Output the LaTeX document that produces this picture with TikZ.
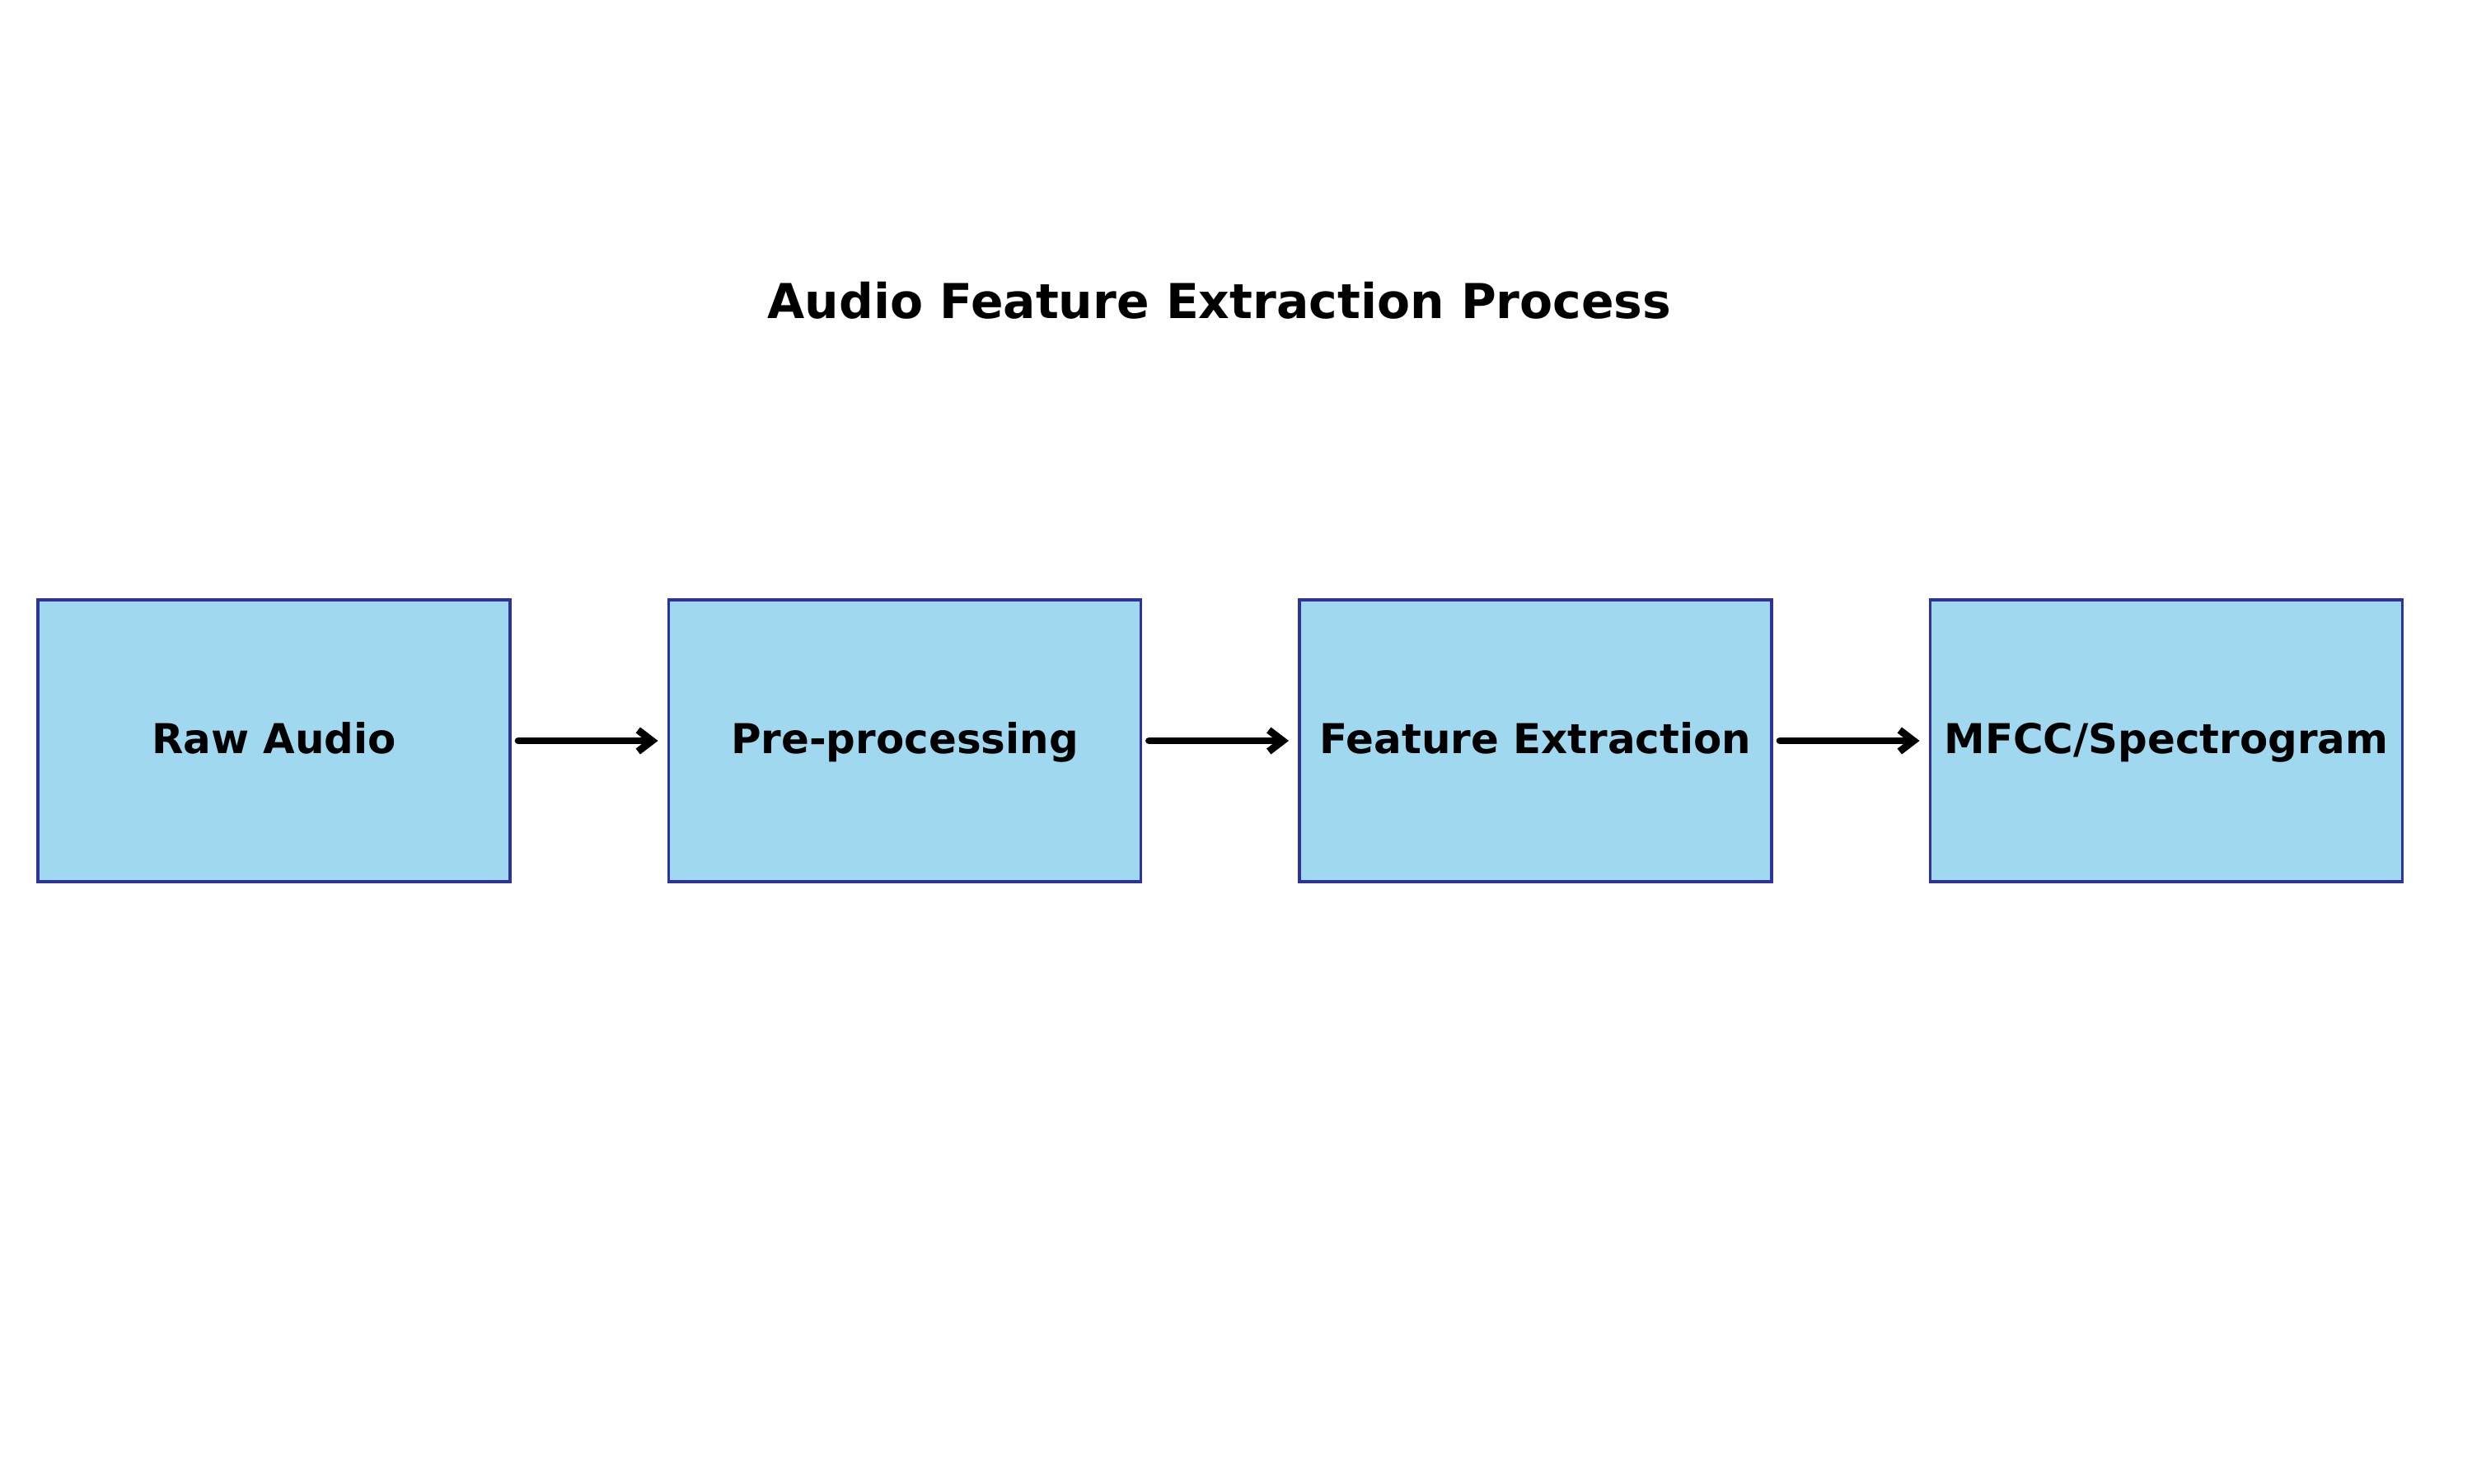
\documentclass[tikz,border=0pt]{standalone}
\usepackage{fontspec}
\setmainfont{DejaVu Sans}
\usetikzlibrary{positioning,arrows.meta}
\definecolor{boxfill}{HTML}{9FD8EF}
\definecolor{boxedge}{HTML}{2E3399}
\tikzset{block/.style = {draw=boxedge, fill=boxfill, line width=0.95pt, rectangle, inner sep=0pt, outer sep=0pt,
                         minimum height=3.42cm, minimum width=5.73cm, text height=10.8pt, text depth=1.8pt,
                         font=\fontsize{14.2}{17}\selectfont\bfseries},
         flow/.style = {-{Straight Barb[length=0.17cm, width=0.26cm]}, line width=2.5pt, line cap=round, line join=round,
                        shorten <=0.1cm, shorten >=0.13cm}}
\begin{document}
\begin{tikzpicture}
        \useasboundingbox (0,0) rectangle (30,18);
        \node[anchor=base, font=\fontsize{16.6}{20}\selectfont\bfseries](title)at(14.8,14.13){Audio Feature Extraction Process};
        \node[block](raw)at(3.325,9.01){Raw Audio};
        \node[block, right=1.925cm of raw](pre){Pre-processing};
        \node[block, right=1.925cm of pre](feat){Feature Extraction};
        \node[block, right=1.925cm of feat](mfcc){MFCC/Spectrogram};
        \draw[flow](raw.east)--(pre.west);
        \draw[flow](pre.east)--(feat.west);
        \draw[flow](feat.east)--(mfcc.west);
    \end{tikzpicture}
\end{document}
